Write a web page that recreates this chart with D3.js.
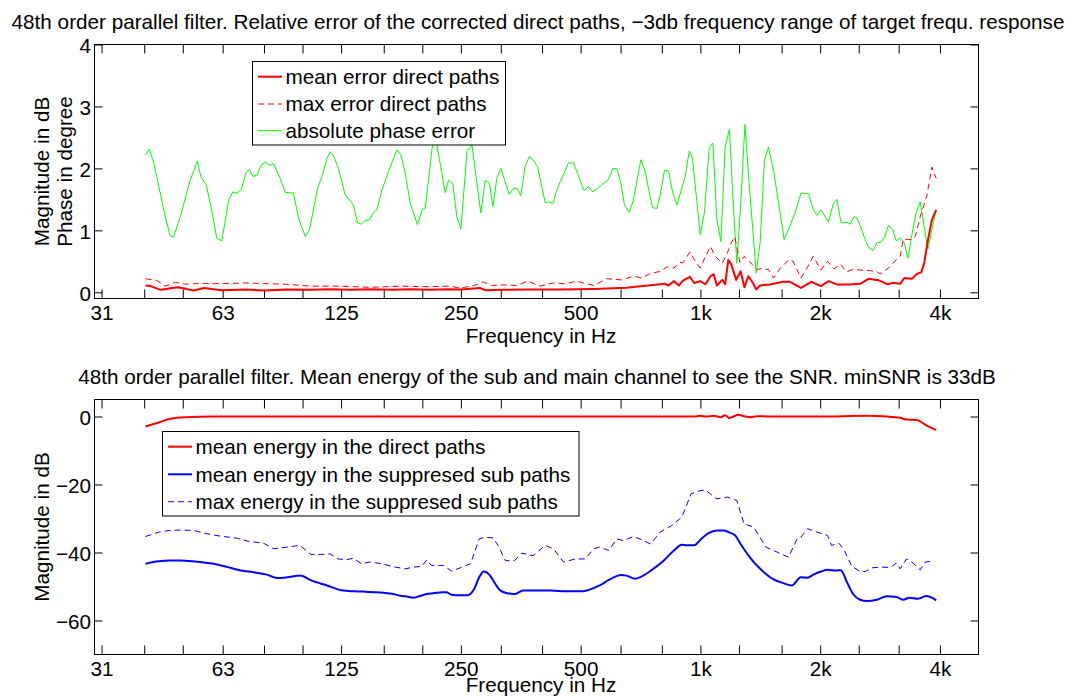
<!DOCTYPE html>
<html>
<head>
<meta charset="utf-8">
<script src="https://cdn.jsdelivr.net/npm/d3@7"></script>
<style>
  body { margin: 0; background: #fff; }
  text { font-family: "Liberation Sans", Arial, Helvetica, sans-serif; fill: #000; }
</style>
</head>
<body>
<svg id="chart" width="1074" height="696"></svg>
<script>
// ---- frequency axis (third-octave ticks, octave labels) ----
const freqTicks = [31.25, 40, 50, 63, 80, 100, 125, 160, 200, 250, 315, 400, 500, 630, 800, 1000, 1250, 1600, 2000, 2500, 3150, 4000];
const freqTickLabels = { 31.25: "31", 63: "63", 125: "125", 250: "250", 500: "500", 1000: "1k", 2000: "2k", 4000: "4k" };

// ---- upper panel: relative error of the corrected direct paths [freq Hz, value] ----
const errorTicks = [0, 1, 2, 3, 4];
const meanErrorDirect = [
  [40.3,0.11],[41.5,0.10],[44.0,0.04],[48.6,0.08],[53.3,0.03],[56.5,0.07],[62.6,0.035],[72,0.045],
  [80.6,0.03],[90.5,0.045],[104.7,0.04],[117.4,0.05],[132,0.04],[148,0.05],[167.5,0.04],[186.5,0.05],
  [208,0.04],[233,0.05],[250,0.045],[279,0.07],[288,0.035],[320,0.04],[368,0.045],[445,0.045],
  [540,0.055],[652,0.075],[792,0.13],[811,0.14],[831,0.11],[858,0.18],[883,0.11],[904,0.19],
  [941,0.25],[965,0.15],[999,0.18],[1030,0.13],[1060,0.26],[1080,0.29],[1100,0.11],[1135,0.20],
  [1154,0.13],[1175,0.52],[1196,0.45],[1230,0.20],[1262,0.34],[1290,0.08],[1320,0.26],[1355,0.15],
  [1381,0.045],[1413,0.11],[1495,0.127],[1614,0.17],[1680,0.17],[1789,0.07],[1899,0.17],[2009,0.10],
  [2099,0.18],[2203,0.127],[2365,0.127],[2521,0.137],[2645,0.217],[2800,0.196],[2955,0.127],[3035,0.153],
  [3178,0.137],[3253,0.23],[3401,0.217],[3500,0.297],[3590,0.324],[3652,0.474],[3720,0.795],[3818,1.17],
  [3914,1.33]
];
const maxErrorDirect = [
  [40.3,0.22],[43.0,0.19],[45.2,0.10],[47.9,0.16],[50.8,0.13],[53.3,0.14],[61.6,0.14],[72,0.15],
  [90.5,0.13],[104.7,0.10],[124,0.10],[148,0.08],[176,0.10],[208,0.09],[233,0.10],[250,0.07],
  [270,0.11],[284,0.17],[299,0.11],[320,0.12],[346,0.11],[368,0.18],[396,0.10],[427,0.15],
  [460,0.14],[488,0.18],[540,0.11],[581,0.22],[632,0.20],[679,0.26],[714,0.23],[740,0.29],
  [792,0.34],[824,0.41],[858,0.39],[883,0.48],[904,0.48],[941,0.65],[965,0.53],[999,0.39],
  [1030,0.58],[1060,0.74],[1090,0.58],[1135,0.47],[1168,0.63],[1196,0.80],[1220,0.90],[1257,0.48],
  [1287,0.58],[1350,0.45],[1385,0.37],[1420,0.38],[1483,0.37],[1527,0.23],[1589,0.39],[1671,0.53],
  [1710,0.50],[1789,0.23],[1850,0.38],[1920,0.58],[2009,0.36],[2088,0.50],[2165,0.38],[2253,0.45],
  [2330,0.33],[2420,0.37],[2521,0.36],[2760,0.34],[2830,0.30],[2970,0.39],[3110,0.53],[3178,0.58],
  [3236,0.86],[3401,0.85],[3470,0.91],[3568,1.22],[3705,1.55],[3818,2.02],[3914,1.84]
];
const phaseError = [
  [40.3,2.22],[41.2,2.31],[42.2,2.11],[43.9,1.60],[45.2,1.22],[46.5,0.91],[47.4,0.89],[49.3,1.22],
  [52.2,1.81],[54.4,2.12],[55.5,1.87],[57.3,1.73],[59.2,1.30],[60.9,0.87],[62.7,0.83],[65.2,1.49],
  [66.8,1.62],[68.4,1.60],[70.2,1.66],[72.0,1.93],[73.6,1.98],[75.0,1.87],[76.8,1.89],[78.7,2.05],
  [80.6,2.10],[82.6,2.05],[84.5,2.08],[87.9,1.84],[90.5,1.61],[92.7,1.61],[94.9,1.60],[97.7,1.20],
  [101.6,0.90],[104.1,1.01],[106.5,1.33],[109.1,1.68],[111.9,1.87],[115.2,2.16],[117.4,2.27],[119.6,2.21],
  [123.1,2.00],[128.0,1.57],[132.3,1.47],[134.3,1.40],[137.5,1.12],[140.4,1.10],[143.7,1.16],[147.3,1.17],
  [150.8,1.29],[153.8,1.33],[158.3,1.65],[164.5,1.95],[172.7,2.30],[177.0,2.21],[181.2,1.92],[186.5,1.44],
  [190.1,1.28],[194.5,1.09],[199.5,1.33],[203.4,1.36],[207.3,1.81],[212.6,2.43],[217.6,2.38],[224.0,1.92],
  [228.3,1.61],[232.8,1.81],[238.7,1.75],[244.3,1.22],[250.1,1.02],[258.9,2.27],[266.5,2.38],[280.7,1.28],
  [287.8,1.81],[295.1,1.76],[300.9,1.38],[308.0,1.85],[315.2,2.00],[330.7,1.58],[339.0,1.68],[345.8,1.68],
  [353.9,1.56],[362.8,2.04],[371.3,2.19],[379.3,2.14],[389.6,2.03],[407.3,1.45],[415.1,1.46],[425.9,1.43],
  [435.9,1.66],[466.2,2.09],[479.8,2.09],[510.4,1.64],[523.3,1.71],[536.8,1.62],[587.5,1.82],[602.6,2.00],
  [616.7,2.00],[631.2,1.76],[644.5,1.41],[662.2,1.29],[679.0,1.49],[708.7,2.14],[726.5,1.95],[740.5,1.68],
  [757.8,1.37],[777.4,1.35],[792.4,1.57],[812.4,1.97],[831.4,1.96],[852.8,1.60],[872.8,1.41],[915.8,1.87],
  [937.4,2.28],[955.3,2.16],[998.9,0.93],[1024,1.30],[1052,2.32],[1075,2.41],[1100,1.17],[1126,0.82],
  [1154,2.35],[1183,2.63],[1211,1.36],[1235,0.47],[1266,1.55],[1294,2.71],[1324,1.81],[1381,0.31],
  [1413,0.80],[1449,2.14],[1483,2.34],[1527,1.97],[1624,0.85],[1665,1.01],[1731,1.29],[1789,1.60],
  [1869,1.59],[1924,1.33],[1962,1.24],[2009,1.33],[2059,1.22],[2099,1.13],[2153,1.41],[2203,1.50],
  [2258,1.12],[2335,1.13],[2380,1.10],[2430,1.22],[2470,1.21],[2521,1.08],[2585,0.88],[2645,0.73],
  [2714,0.67],[2777,0.80],[2847,0.81],[2902,0.89],[2970,1.08],[3047,1.01],[3105,0.83],[3178,0.88],
  [3253,0.80],[3323,0.55],[3401,0.93],[3487,1.29],[3568,1.46],[3652,1.06],[3731,0.70],[3818,1.01],
  [3914,1.33]
];

// ---- lower panel: mean energy of the direct and sub paths in dB [freq Hz, dB] ----
const energyTicks = [0, -20, -40, -60];
const meanEnergyDirect = [
  [40.3,-2.94],[43.5,-1.76],[46.5,-0.69],[50.5,-0.2],[60,0],[100,0],[200,0],[400,0],[800,0],[965,0],
  [999,0.2],[1037,0],[1080,0.2],[1126,-0.2],[1154,0.4],[1183,-0.5],[1211,0],[1245,0.5],[1287,0.1],
  [1335,-0.2],[1385,0.1],[1500,0],[2000,0],[2620,0.2],[3178,-0.4],[3295,-0.9],[3500,-1.0],[3630,-2.0],
  [3730,-2.84],[3914,-3.92]
];
const meanEnergySub = [
  [40.3,-43.3],[43.5,-42.6],[46.5,-42.35],[49.3,-42.35],[53.3,-42.6],[59.8,-43.3],[64.9,-44.3],[70,-45.3],
  [75.2,-45.8],[81.3,-46.5],[86.3,-47.5],[91.5,-47.3],[98.7,-46.8],[105.1,-48.2],[115.2,-49.7],[126.6,-51.2],
  [134.3,-51.4],[142.4,-51.5],[153.8,-51.7],[168.7,-52.2],[177.2,-52.8],[181.2,-52.9],[190.1,-53.3],[197.3,-52.8],
  [205,-52.2],[213.3,-52.0],[224,-51.7],[229.6,-51.7],[237,-52.4],[248,-52.6],[259,-52.6],[270,-50.7],
  [278,-47.3],[285.5,-45.6],[296,-46.8],[305,-49.2],[313,-51.0],[325,-51.9],[341,-52.2],[358,-51.2],
  [380,-51.2],[421,-51.2],[460,-51.4],[506,-51.4],[524,-51.0],[558,-49.7],[590,-48.0],[632,-46.6],
  [652,-46.8],[686,-47.7],[718,-46.8],[761,-44.8],[808,-42.4],[858,-39.4],[898,-37.7],[924,-37.9],
  [965,-37.9],[999,-36.3],[1048,-34.3],[1100,-33.5],[1147,-33.5],[1175,-34.0],[1223,-35.0],[1262,-37.5],
  [1321,-40.9],[1413,-44.8],[1527,-47.9],[1614,-49.0],[1697,-49.7],[1789,-47.3],[1860,-47.4],[1924,-46.5],
  [2009,-45.6],[2088,-45.1],[2190,-45.3],[2253,-45.2],[2277,-45.8],[2335,-48.7],[2420,-52.2],[2521,-53.9],
  [2620,-54.3],[2777,-53.9],[2940,-52.9],[3110,-53.1],[3236,-53.9],[3350,-53.3],[3520,-53.6],[3705,-52.8],
  [3818,-53.3],[3914,-54.1]
];
const maxEnergySub = [
  [40.3,-35.3],[43.5,-34.0],[46.5,-33.5],[49.3,-33.4],[53.3,-33.5],[57.5,-34.5],[62.2,-35.2],[68.6,-35.8],
  [73.5,-36.8],[79.6,-37.2],[84.6,-38.9],[91.5,-38.4],[98.4,-37.9],[105.1,-40.6],[110.8,-40.6],[117.4,-40.4],
  [123,-41.9],[129,-42.1],[134.3,-41.7],[140.6,-43.3],[148.1,-42.8],[158,-43.3],[170.9,-44.3],[181.2,-44.8],
  [190,-44.3],[199.5,-44.1],[205,-42.2],[210.8,-43.8],[226.2,-43.8],[237,-45.5],[251.6,-44.3],[264.5,-43.3],
  [278,-36.0],[287.8,-35.5],[301,-35.7],[310,-37.9],[323.6,-42.4],[341,-42.4],[355,-40.2],[380,-40.9],
  [407.3,-37.9],[427,-38.9],[453,-42.8],[485,-41.9],[513,-41.9],[540,-38.9],[558,-38.4],[588,-39.4],
  [617,-36.0],[640,-36.5],[679,-35.3],[714,-36.3],[750,-37.5],[792,-34.0],[846,-32.1],[898,-29.6],
  [948,-22.7],[999,-21.8],[1030,-21.6],[1070,-23.2],[1100,-24.2],[1168,-23.7],[1235,-24.7],[1287,-31.6],
  [1361,-32.5],[1460,-38.4],[1560,-39.9],[1665,-41.4],[1750,-36.0],[1789,-35.5],[1860,-33.0],[1962,-34.0],
  [2088,-35.0],[2135,-37.9],[2230,-37.3],[2300,-39.4],[2400,-44.0],[2521,-45.6],[2600,-45.6],[2700,-44.5],
  [2830,-44.3],[3000,-44.4],[3110,-43.1],[3178,-44.8],[3295,-41.9],[3401,-42.8],[3568,-45.1],[3675,-42.8],
  [3790,-42.6],[3840,-43.3]
];

// ---- layout ----
const svg = d3.select("#chart");
const left = 94.5, right = 978.5;
const xTickLen = 9, yTickLen = 8;
const fontSize = 20.7;

const x = d3.scaleLog().domain([30, 5000]).range([left, right]);
const yTop = d3.scaleLinear().domain([-0.1, 4]).range([298.5, 44.5]);
const yBot = d3.scaleLinear().domain([-70, 5]).range([654.5, 399.5]);

function minusFmt(v) { return String(v).replace("-", "\u2212"); }

function drawFrame(yScale, yTicks, yLabelDy) {
  const [bottom, top] = yScale.range();
  const g = svg.append("g");

  // bottom x axis with labels, ticks pointing inward
  const xb = g.append("g").attr("transform", `translate(0,${bottom})`)
    .call(d3.axisBottom(x).tickValues(freqTicks).tickSizeInner(-xTickLen).tickSizeOuter(0)
      .tickPadding(7).tickFormat(d => freqTickLabels[d] || ""));
  // top x axis, ticks only
  const xt = g.append("g").attr("transform", `translate(0,${top})`)
    .call(d3.axisTop(x).tickValues(freqTicks).tickSizeInner(-xTickLen).tickSizeOuter(0).tickFormat(""));
  // left y axis with labels
  const yl = g.append("g").attr("transform", `translate(${left},0)`)
    .call(d3.axisLeft(yScale).tickValues(yTicks).tickSizeInner(-yTickLen).tickSizeOuter(0)
      .tickPadding(3.5).tickFormat(minusFmt));
  // right y axis, ticks only
  const yr = g.append("g").attr("transform", `translate(${right},0)`)
    .call(d3.axisRight(yScale).tickValues(yTicks).tickSizeInner(-yTickLen).tickSizeOuter(0).tickFormat(""));

  [xb, xt, yl, yr].forEach(a => {
    a.select(".domain").remove();
    a.selectAll(".tick line").attr("stroke", "#000").attr("stroke-width", 1);
    a.selectAll(".tick text").attr("fill", "#000")
      .style("font-family", '"Liberation Sans", Arial, sans-serif').style("font-size", fontSize + "px");
  });
  yl.selectAll(".tick text").attr("dy", yLabelDy);

  g.append("rect").attr("x", left).attr("y", top).attr("width", right - left).attr("height", bottom - top)
    .attr("fill", "none").attr("stroke", "#000").attr("stroke-width", 1);
  return g;
}

function drawLine(data, yScale, color, width, dash, curve) {
  const line = d3.line().x(d => x(d[0])).y(d => yScale(d[1])).curve(curve || d3.curveLinear);
  svg.append("path").datum(data).attr("d", line)
    .attr("fill", "none").attr("stroke", color).attr("stroke-width", width)
    .attr("stroke-linejoin", "round").attr("stroke-dasharray", dash || null);
}

function drawLegend(x0, y0, w, h, rowYs, entries) {
  const g = svg.append("g");
  g.append("rect").attr("x", x0).attr("y", y0).attr("width", w).attr("height", h)
    .attr("fill", "#fff").attr("stroke", "#000").attr("stroke-width", 1);
  entries.forEach((e, i) => {
    const cy = rowYs[i];
    g.append("line").attr("x1", x0 + 5.5).attr("x2", x0 + 29.5).attr("y1", cy).attr("y2", cy)
      .attr("stroke", e.color).attr("stroke-width", e.width).attr("stroke-dasharray", e.dash || null);
    g.append("text").attr("x", x0 + 33).attr("y", cy).attr("dy", "0.36em")
      .style("font-size", fontSize + "px").text(e.label);
  });
}

// ---- upper panel ----
drawFrame(yTop, errorTicks, "0.4em");
drawLine(phaseError, yTop, "#00ff00", 1);
drawLine(maxErrorDirect, yTop, "#ff0000", 1, "6,4");
drawLine(meanErrorDirect, yTop, "#ff0000", 2);

drawLegend(252.5, 61.5, 253, 83.5, [76.7, 104, 130.7], [
  { label: "mean error direct paths", color: "#ff0000", width: 2 },
  { label: "max error direct paths", color: "#ff0000", width: 1, dash: "6,4" },
  { label: "absolute phase error", color: "#00ff00", width: 1 }
]);

svg.append("text").attr("x", 538).attr("y", 29.3).attr("text-anchor", "middle")
  .style("font-size", fontSize + "px")
  .text("48th order parallel filter. Relative error of the corrected direct paths, \u22123db frequency range of target frequ. response");
svg.append("text").attr("x", 541).attr("y", 343).attr("text-anchor", "middle")
  .style("font-size", fontSize + "px").text("Frequency in Hz");
svg.append("text").attr("transform", "translate(49,171.5) rotate(-90)").attr("text-anchor", "middle")
  .style("font-size", fontSize + "px").text("Magnitude in dB");
svg.append("text").attr("transform", "translate(71.5,171.5) rotate(-90)").attr("text-anchor", "middle")
  .style("font-size", fontSize + "px").text("Phase in degree");

// ---- lower panel ----
drawFrame(yBot, energyTicks, "0.37em");
drawLine(maxEnergySub, yBot, "#0000ff", 1, "6,4");
drawLine(meanEnergySub, yBot, "#0000ff", 2, null, d3.curveMonotoneX);
drawLine(meanEnergyDirect, yBot, "#ff0000", 2, null, d3.curveMonotoneX);

drawLegend(162.5, 431.5, 416.5, 84.5, [446.7, 474.3, 501.7], [
  { label: "mean energy in the direct paths", color: "#ff0000", width: 2 },
  { label: "mean energy in the suppresed sub paths", color: "#0000ff", width: 2 },
  { label: "max energy in the suppresed sub paths", color: "#0000ff", width: 1, dash: "6,4" }
]);

svg.append("text").attr("x", 537).attr("y", 384).attr("text-anchor", "middle")
  .style("font-size", fontSize + "px")
  .text("48th order parallel filter. Mean energy of the sub and main channel to see the SNR. minSNR is 33dB");
svg.append("text").attr("x", 541).attr("y", 692).attr("text-anchor", "middle")
  .style("font-size", fontSize + "px").text("Frequency in Hz");
svg.append("text").attr("transform", "translate(49,527) rotate(-90)").attr("text-anchor", "middle")
  .style("font-size", fontSize + "px").text("Magnitude in dB");
</script>
</body>
</html>
